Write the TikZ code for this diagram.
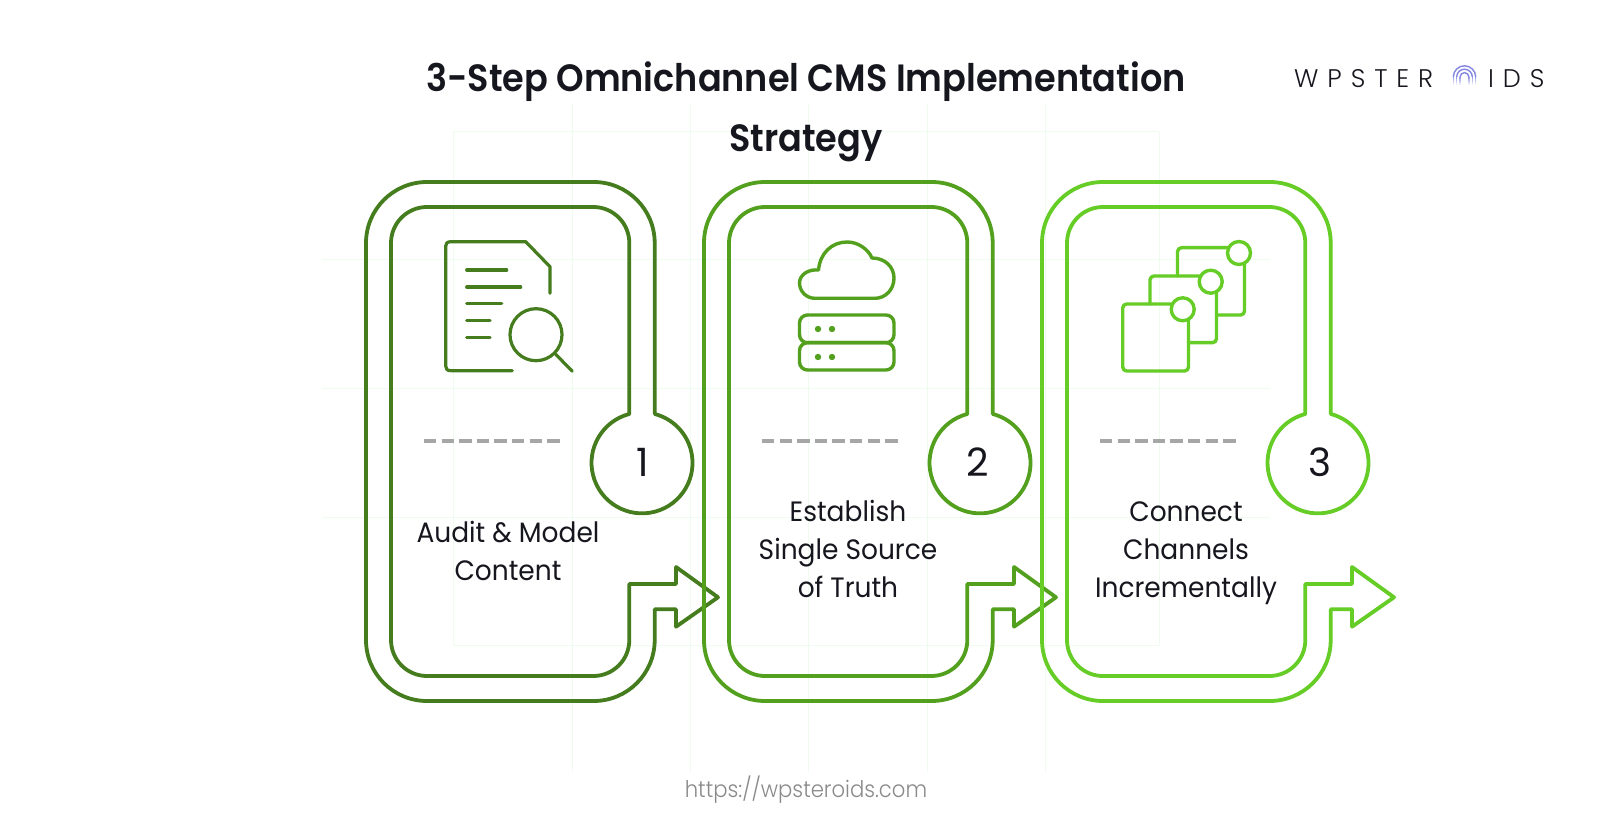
\documentclass[tikz,border=0pt]{standalone}
\usepackage{fontspec}
\setmainfont{Poppins}
\newfontfamily\bodyf[FakeStretch=0.945]{Poppins}
\newfontfamily\numf{Poppins}
\newfontfamily\titlef[FakeStretch=0.923]{Poppins SemiBold}
\newfontfamily\logof[LetterSpace=35]{Poppins Light}
\newfontfamily\urlf[FakeStretch=0.92]{Poppins Light}
\definecolor{cA}{HTML}{447C1E}
\definecolor{cB}{HTML}{52A01E}
\definecolor{cC}{HTML}{66CC26}
\definecolor{ink}{HTML}{16161E}
\definecolor{dashc}{HTML}{A6A6A6}
\definecolor{gridc}{HTML}{EEFBEE}
\definecolor{urlc}{HTML}{8A8A8A}
\definecolor{logoc}{HTML}{8486E2}
\tikzset{
  outline/.style={line width=3.8pt,line join=round,line cap=round},
  dashrule/.style={line width=4.4pt,color=dashc,dash pattern=on 12.3pt off 5.3pt,line cap=butt},
  grid line/.style={gridc,line width=1pt},
  boxlabel/.style={align=center,text=ink,font=\bodyf\fontsize{28}{38}\selectfont,inner sep=0pt},
  numlabel/.style={text=ink,font=\numf\fontsize{39}{39}\selectfont,inner sep=0pt},
  titlelabel/.style={text=ink,font=\titlef\fontsize{38}{38}\selectfont,inner sep=0pt,anchor=base},
  logolabel/.style={text=ink,font=\logof\fontsize{25.5}{25.5}\selectfont,inner sep=0pt,anchor=base west},
}
\begin{document}
\begin{tikzpicture}[x=1pt,y=-1pt]
\useasboundingbox (0,0) rectangle (1612,818);
\fill[white] (0,0) rectangle (1612,818);
% faint grid
\foreach \gx in {572,690,808,927,1045}
  \draw[grid line] (\gx,105) -- (\gx,772);
\foreach \gx in {453,1159}
  \draw[grid line] (\gx,132) -- (\gx,645);
\foreach \gy in {132,645}
  \draw[grid line] (453,\gy) -- (1159,\gy);
\foreach \gy in {260,388,517}
  \draw[grid line] (322,\gy) -- (1270,\gy);
% step frames
\foreach \off/\col in {0/cA,338/cB,676/cC}{
\begin{scope}[xshift=\off pt]
  \draw[outline,draw=\col]
    (654.7,414) -- (654.7,243) arc[start angle=0,end angle=-90,radius=61] -- (427,182)
    arc[start angle=-90,end angle=-180,radius=61] -- (366,640)
    arc[start angle=180,end angle=90,radius=61] -- (593.7,701)
    arc[start angle=90,end angle=0,radius=61] -- (654.7,609.3) -- (676,609.3) -- (676,626.7)
    -- (718,597.3) -- (676,567) -- (676,584) -- (629.3,584) -- (629.3,640)
    arc[start angle=0,end angle=90,radius=36] -- (427,676)
    arc[start angle=90,end angle=180,radius=36] -- (391,243)
    arc[start angle=180,end angle=270,radius=36] -- (593.3,207)
    arc[start angle=270,end angle=360,radius=36] -- (629.3,414)
    arc[start angle=255.4,end angle=-75.4,radius=50.5];
  \draw[dashrule] (424,440.7) -- (560.7,440.7);
\end{scope}}
% number labels
\node[numlabel] (n1) at (643,462) {1};
\node[numlabel] (n2) at (978,462) {2};
\node[numlabel] (n3) at (1320,462) {3};
% step texts
\node[boxlabel,anchor=base] (t1) at (508,580) {Audit \& Model\\Content};
\node[boxlabel,anchor=base] (t2) at (848,597) {Establish\\Single Source\\of Truth};
\node[boxlabel,anchor=base] (t3) at (1186,597) {Connect\\Channels\\Incrementally};
% icon 1
\begin{scope}[draw=cA,line width=3.2pt,line cap=round,line join=round]
  \draw (550,293.3) -- (550,266.7) -- (525.7,241.7) -- (451,241.7)
    .. controls (447,241.7) and (445.7,243.5) .. (445.7,246) -- (445.7,366)
    .. controls (445.7,369) and (447,370.7) .. (451,370.7) -- (512.3,370.7);
  \draw (466.7,270) -- (506.7,270);
  \draw (466.7,287) -- (520.7,287);
  \draw (466.7,303.7) -- (501.7,303.7);
  \draw (466.7,320.7) -- (490,320.7);
  \draw (466.7,337.3) -- (490,337.3);
  \draw (536,334.7) circle[radius=26];
  \draw (555.7,354.3) -- (572.3,371.3);
\end{scope}
% icon 2
\begin{scope}[draw=cB,line width=3.4pt,line cap=round,line join=round]
  \draw (815,298.3) .. controls (806,298.3) and (799.5,291) .. (799.5,283)
    .. controls (799.5,275) and (808,269) .. (818.5,270)
    .. controls (820,253) and (832,242) .. (847,242)
    .. controls (858,242) and (868,249) .. (872,258)
    .. controls (885,258) and (894,267) .. (894,278)
    .. controls (894,290) and (885,298.3) .. (875,298.3) -- cycle;
  \draw[rounded corners=8pt] (799.5,315) rectangle (894,342.7);
  \draw[rounded corners=8pt] (799.5,342.7) rectangle (894,370);
  \fill[cB] (818,329) circle[radius=3.2] (832,329) circle[radius=3.2]
            (818,357) circle[radius=3.2] (832,357) circle[radius=3.2];
\end{scope}
% icon 3
\begin{scope}[draw=cC,line width=3.4pt,line cap=round,line join=round]
  \draw[rounded corners=4pt] (1177.5,276) -- (1177.5,247.7) -- (1244.5,247.7) -- (1244.5,315) -- (1216.5,315);
  \draw[fill=white] (1239,253) circle[radius=11.5];
  \draw[rounded corners=4pt] (1150,304) -- (1150,276) -- (1216.5,276) -- (1216.5,342.7) -- (1188.5,342.7);
  \draw[fill=white] (1210.7,281.7) circle[radius=11.5];
  \draw[rounded corners=4pt] (1122.7,304) rectangle (1188.5,371);
  \draw[fill=white] (1182.7,309.3) circle[radius=11.5];
\end{scope}
% title
\node[titlelabel] (title1) at (806,92) {3-Step Omnichannel CMS Implementation};
\node[titlelabel] (title2) at (806,152) {Strategy};
% logo
\node[logolabel] (logoA) at (1294,88) {WPSTER};
\node[logolabel] (logoB) at (1488,88) {IDS};
\foreach \r in {11.2,7.8,4.4}{
  \draw[logoc,line width=1.4pt] (1464.5-\r,77) arc[start angle=180,end angle=360,radius=\r];
  \foreach \k in {0,1,2,3}{
    \pgfmathsetmacro{\op}{0.8-0.22*\k}
    \draw[logoc,line width=1.4pt,opacity=\op] (1464.5-\r,77+2*\k) -- (1464.5-\r,79+2*\k);
    \draw[logoc,line width=1.4pt,opacity=\op] (1464.5+\r,77+2*\k) -- (1464.5+\r,79+2*\k);
  }
}
% url
\node[text=urlc,font=\urlf\fontsize{23}{23}\selectfont,inner sep=0pt,anchor=base] (url) at (806,797) {https://wpsteroids.com};
\end{tikzpicture}
\end{document}
